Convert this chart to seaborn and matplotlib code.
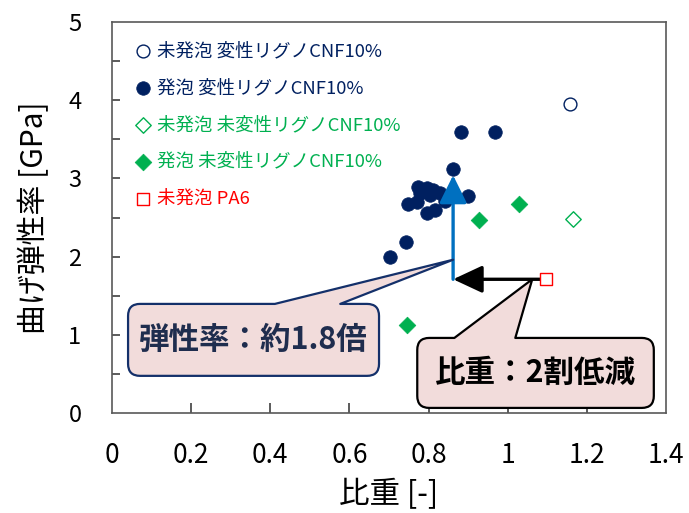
import numpy as np
import pandas as pd
import matplotlib
matplotlib.use("Agg")
import matplotlib.pyplot as plt
import seaborn as sns
from matplotlib.path import Path
from matplotlib.patches import PathPatch
from matplotlib.transforms import IdentityTransform, blended_transform_factory

# ---------------- data ----------------
mod_unfoamed_x = [1.157]
mod_unfoamed_y = [3.95]

mod_foamed_x = [0.881, 0.968, 0.862, 0.900, 0.742, 0.703, 0.774, 0.795, 0.812,
                0.778, 0.804, 0.749, 0.770, 0.795, 0.816, 0.841, 0.829]
mod_foamed_y = [3.59, 3.59, 3.12, 2.775, 2.19, 2.00, 2.894, 2.873, 2.852,
                2.81, 2.79, 2.67, 2.70, 2.56, 2.59, 2.71, 2.81]

unmod_unfoamed_x = [1.164]
unmod_unfoamed_y = [2.48]

unmod_foamed_x = [0.745, 0.928, 1.028]
unmod_foamed_y = [1.12, 2.47, 2.67]

pa6_x = [1.096]
pa6_y = [1.71]

labels = ["未発泡 変性リグノCNF10%", "発泡 変性リグノCNF10%",
          "未発泡 未変性リグノCNF10%", "発泡 未変性リグノCNF10%", "未発泡 PA6"]

x_ticks = [0, 0.2, 0.4, 0.6, 0.8, 1, 1.2, 1.4]
x_tick_labels = ["0", "0.2", "0.4", "0.6", "0.8", "1", "1.2", "1.4"]
y_ticks = [0, 1, 2, 3, 4, 5]
y_tick_marks = [0.5, 1, 1.5, 2, 2.5, 3, 3.5, 4, 4.5]
x_tick_marks = [0.2, 0.4, 0.6, 0.8, 1.0, 1.2]

# annotation anchors (data coords)
arrow_x = 0.862
arrow_y0 = 1.71
arrow_y1 = 3.04
h_arrow_x0 = 1.090
callout1_tip = (0.862, 1.96)
callout2_tip = (1.062, 1.71)
callout1_text = "弾性率：約1.8倍"
callout2_text = "比重：2割低減"

NAVY = "#002060"
GREEN = "#00B050"
RED = "#FF0000"
BLUE = "#0070C0"
PINK = "#F2DCDB"
AXIS = "#404040"

# ---------------- style ----------------
sns.set_theme(style="ticks")
plt.rcParams['font.family'] = ['Noto Sans CJK JP', 'DejaVu Sans']

fig = plt.figure(figsize=(6.89, 5.13), dpi=100)
ax = fig.add_axes([112/689, 1-413/513, 554/689, 391/513])

sns.scatterplot(x=mod_unfoamed_x, y=mod_unfoamed_y, ax=ax, marker='o', s=85,
                facecolor='white', edgecolor=NAVY, linewidth=1.0, label=labels[0], zorder=3)
sns.scatterplot(x=mod_foamed_x, y=mod_foamed_y, ax=ax, marker='o', s=95,
                color=NAVY, edgecolor=NAVY, linewidth=0.5, label=labels[1], zorder=3)
sns.scatterplot(x=unmod_unfoamed_x, y=unmod_unfoamed_y, ax=ax, marker='D', s=62,
                facecolor='white', edgecolor=GREEN, linewidth=1.0, label=labels[2], zorder=3)
sns.scatterplot(x=unmod_foamed_x, y=unmod_foamed_y, ax=ax, marker='D', s=72,
                color=GREEN, edgecolor=GREEN, linewidth=0.5, label=labels[3], zorder=3)
sns.scatterplot(x=pa6_x, y=pa6_y, ax=ax, marker='s', s=85,
                facecolor='white', edgecolor=RED, linewidth=1.0, label=labels[4], zorder=6)

ax.set_xlim(0, 1.4)
ax.set_ylim(0, 5)
ax.set_xticks(x_ticks)
ax.set_xticklabels(x_tick_labels)
ax.set_yticks(y_ticks)
ax.tick_params(axis='both', which='major', direction='in', length=0, labelcolor='black')
ax.tick_params(axis='x', which='major', pad=21, labelsize=19)
ax.tick_params(axis='y', which='major', pad=22, labelsize=17)
for sp in ax.spines.values():
    sp.set_visible(True)
    sp.set_color('#595959')
    sp.set_linewidth(1.2)

# inward tick marks along the bottom and left spines
xtrans = blended_transform_factory(ax.transData, ax.transAxes)
ytrans = blended_transform_factory(ax.transAxes, ax.transData)
x_len = 10 / 391
y_len = 8 / 554
for xv in x_tick_marks:
    ax.plot([xv, xv], [0, x_len], transform=xtrans, color=AXIS, lw=1.2,
            solid_capstyle='butt', clip_on=False, zorder=2)
for yv in y_tick_marks:
    ax.plot([0, y_len], [yv, yv], transform=ytrans, color=AXIS, lw=1.2,
            solid_capstyle='butt', clip_on=False, zorder=2)

ax.set_xlabel("比重 [-]", fontsize=22, labelpad=7, color='black')
ax.set_ylabel("曲げ弾性率 [GPa]", fontsize=21.5, labelpad=13, color='black')

handles, hl = ax.get_legend_handles_labels()
leg = ax.legend(handles[:5], hl[:5], loc='upper left', bbox_to_anchor=(0.0, 1.0),
                frameon=False, fontsize=13.3, labelspacing=1.02, handletextpad=0.13,
                handlelength=1.2, borderpad=0.55, borderaxespad=0.55,
                labelcolor=[NAVY, NAVY, GREEN, GREEN, RED])

# arrows
ax.annotate('', xy=(arrow_x, arrow_y1), xytext=(arrow_x, arrow_y0),
            arrowprops=dict(arrowstyle='-|>,head_length=0.85,head_width=0.42',
                            color=BLUE, lw=2.4, shrinkA=0, shrinkB=0, mutation_scale=20),
            zorder=4)
ax.annotate('', xy=(arrow_x, arrow_y0), xytext=(h_arrow_x0, arrow_y0),
            arrowprops=dict(arrowstyle='-|>,head_length=0.9,head_width=0.42',
                            color='black', lw=2.4, shrinkA=0, shrinkB=0, mutation_scale=20),
            zorder=4)


def callout(box, base, tip_data, ec, text, tcolor, r=12):
    fx0, fy0, fx1, fy1 = box
    (x0, y0) = ax.transAxes.transform((fx0, fy0))
    (x1, y1) = ax.transAxes.transform((fx1, fy1))
    ba = ax.transAxes.transform((base[0], fy1))[0]
    bb = ax.transAxes.transform((base[1], fy1))[0]
    tx, ty = ax.transData.transform(tip_data)
    verts = [(x0 + r, y1), (ba, y1), (tx, ty), (bb, y1), (x1 - r, y1),
             (x1, y1), (x1, y1 - r),
             (x1, y0 + r),
             (x1, y0), (x1 - r, y0),
             (x0 + r, y0),
             (x0, y0), (x0, y0 + r),
             (x0, y1 - r),
             (x0, y1), (x0 + r, y1),
             (x0 + r, y1)]
    codes = [Path.MOVETO, Path.LINETO, Path.LINETO, Path.LINETO, Path.LINETO,
             Path.CURVE3, Path.CURVE3,
             Path.LINETO,
             Path.CURVE3, Path.CURVE3,
             Path.LINETO,
             Path.CURVE3, Path.CURVE3,
             Path.LINETO,
             Path.CURVE3, Path.CURVE3,
             Path.CLOSEPOLY]
    patch = PathPatch(Path(verts, codes), facecolor=PINK, edgecolor=ec, lw=1.6,
                      transform=IdentityTransform(), zorder=5, joinstyle='round')
    ax.add_patch(patch)
    ax.text((fx0 + fx1) / 2, (fy0 + fy1) / 2, text, transform=ax.transAxes,
            ha='center', va='center', fontsize=22, fontweight='bold',
            color=tcolor, zorder=6)


callout((0.029, 0.095, 0.482, 0.279), (0.294, 0.412), callout1_tip,
        '#14306A', callout1_text, '#1F2D4E')
callout((0.551, 0.013, 0.978, 0.192), (0.618, 0.728), callout2_tip,
        'black', callout2_text, 'black')

fig.savefig("out.png", dpi=100)
